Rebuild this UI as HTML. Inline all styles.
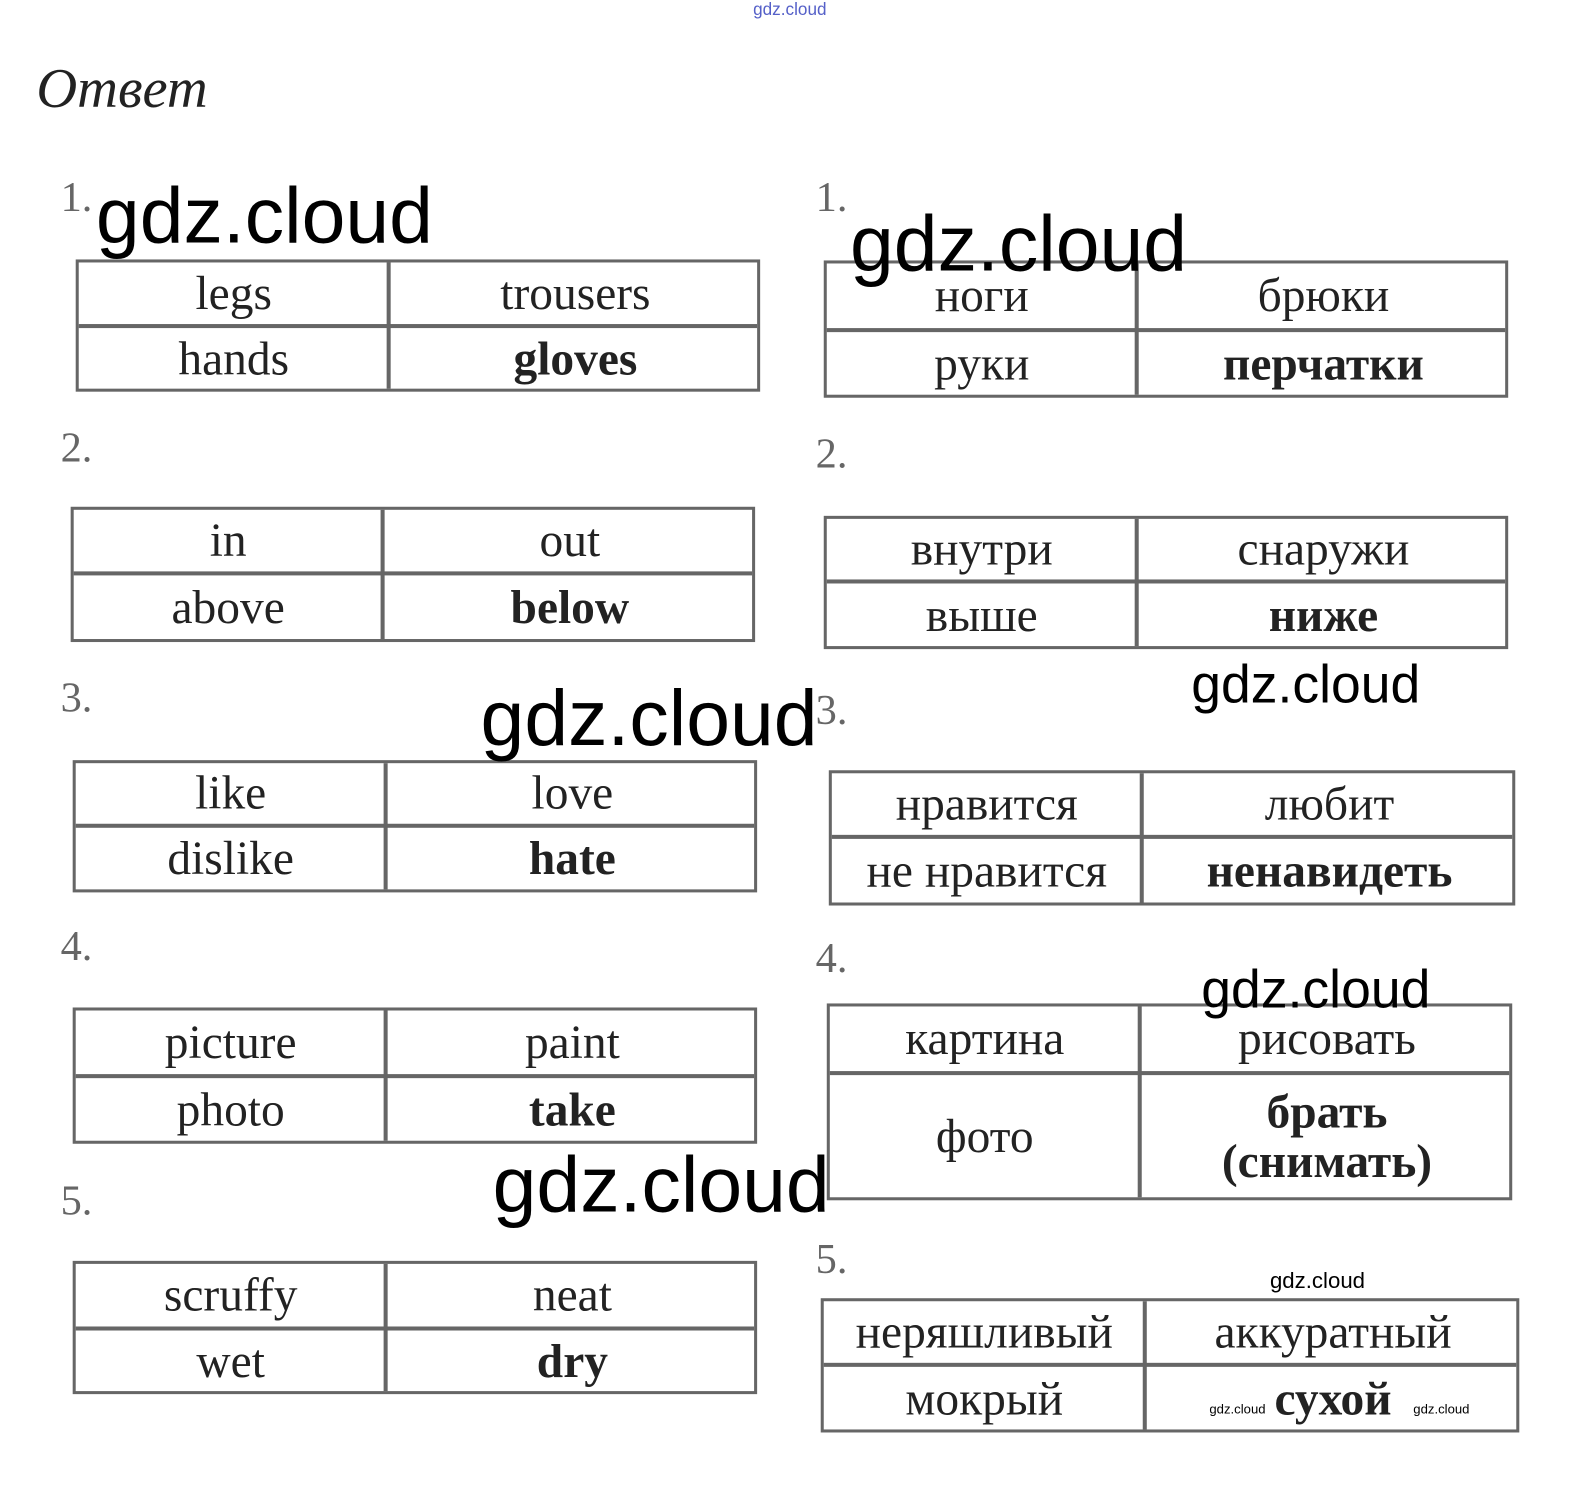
<!DOCTYPE html>
<html><head><meta charset="utf-8">
<style>
body{margin:0;background:#fff;}
#o{position:relative;width:1580px;height:1485px;overflow:hidden;background:#fff;}
#c{position:absolute;left:0;top:0;width:1560px;height:1466px;transform:scale(1.0095);transform-origin:0 0;font-family:"Liberation Serif",serif;}
.t{position:absolute;border:3px solid #666;box-sizing:border-box;}
.h{position:absolute;left:0;right:0;height:4px;background:#666;}
.v{position:absolute;top:0;bottom:0;width:4px;background:#666;}
.cell{position:absolute;text-align:center;font-size:47px;color:#222;display:flex;align-items:center;justify-content:center;line-height:1.05;}
.b{font-weight:bold;}
.n{position:absolute;font-size:42px;color:#666;}
.w{position:absolute;font-family:"Liberation Sans",sans-serif;color:#000;white-space:nowrap;}
</style></head><body><div id="o"><div id="c">
<div class="w" style="left:746px;top:0px;font-size:17px;color:#5560c8;">gdz.cloud</div>
<div style="position:absolute;left:36px;top:56px;font-size:56px;font-style:italic;color:#222;">Ответ</div>

<div class="n" style="left:60px;top:172px">1.</div>
<div class="n" style="left:60px;top:420px">2.</div>
<div class="n" style="left:60px;top:668px">3.</div>
<div class="n" style="left:60px;top:914px">4.</div>
<div class="n" style="left:60px;top:1166px">5.</div>
<div class="n" style="left:808px;top:172px">1.</div>
<div class="n" style="left:808px;top:426px">2.</div>
<div class="n" style="left:808px;top:680px">3.</div>
<div class="n" style="left:808px;top:926px">4.</div>
<div class="n" style="left:808px;top:1224px">5.</div>

<div id="tables"></div>

<div class="w" style="left:95px;top:168px;font-size:78px;">gdz.cloud</div>
<div class="w" style="left:842px;top:196px;font-size:78px;">gdz.cloud</div>
<div class="w" style="left:476px;top:666px;font-size:78px;">gdz.cloud</div>
<div class="w" style="left:1180px;top:648px;font-size:53px;">gdz.cloud</div>
<div class="w" style="left:1190px;top:950px;font-size:53px;">gdz.cloud</div>
<div class="w" style="left:488px;top:1128px;font-size:78px;">gdz.cloud</div>
<div class="w" style="left:1258px;top:1256px;font-size:22px;">gdz.cloud</div>
<div class="w" style="left:1198px;top:1388px;font-size:13px;">gdz.cloud</div>
<div class="w" style="left:1400px;top:1388px;font-size:13px;">gdz.cloud</div>
</div></div>
<script>
var T=[
[75,753,257,388,385,323,["legs","trousers","hands","gloves"]],
[70,748,502,636,379,568,["in","out","above","below"]],
[72,750,753,884,382,818,["like","love","dislike","hate"]],
[72,750,998,1133,382,1066,["picture","paint","photo","take"]],
[72,750,1249,1381,382,1316,["scruffy","neat","wet","dry"]],
[816,1494,258,394,1126,327,["ноги","брюки","руки","перчатки"]],
[816,1494,511,643,1126,576,["внутри","снаружи","выше","ниже"]],
[821,1501,763,897,1131,829,["нравится","любит","не нравится","ненавидеть"]],
[819,1498,994,1189,1129,1063,["картина","рисовать","фото","брать<br>(снимать)"]],
[813,1505,1286,1419,1134,1352,["неряшливый","аккуратный","мокрый","сухой"]]
];
var h="";
T.forEach(function(t){
var x0=t[0],x1=t[1],y0=t[2],y1=t[3],xs=t[4],ys=t[5],s=t[6];
var W=x1-x0,H=y1-y0;
h+='<div class="t" style="left:'+x0+'px;top:'+y0+'px;width:'+W+'px;height:'+H+'px">';
h+='<div class="h" style="top:'+(ys-y0-5)+'px"></div><div class="v" style="left:'+(xs-x0-5)+'px"></div>';
var cs=[[0,xs-x0-3,0,ys-y0-3],[xs-x0-1,W-3,0,ys-y0-3],[0,xs-x0-3,ys-y0-1,H-3],[xs-x0-1,W-3,ys-y0-1,H-3]];
cs.forEach(function(c,i){
h+='<div class="cell'+(i==3?' b':'')+'" style="left:'+c[0]+'px;width:'+(c[1]-c[0])+'px;top:'+c[2]+'px;height:'+(c[3]-c[2])+'px">'+s[i]+'</div>';
});
h+='</div>';
});
document.getElementById('tables').outerHTML=h;
</script>
</body></html>
